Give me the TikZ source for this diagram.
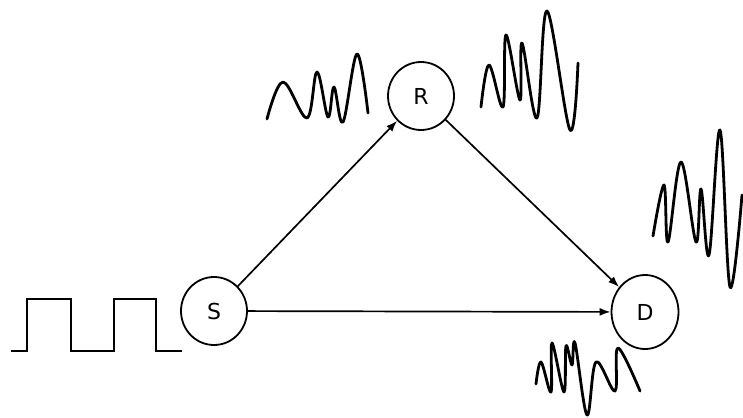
\documentclass[tikz,border=0pt]{standalone}
\usepackage{fontspec}
\setmainfont{DejaVu Sans}
\usetikzlibrary{arrows.meta,shapes.geometric}
\begin{document}
\begin{tikzpicture}[x=1pt,y=-1pt,
  nodebox/.style={ellipse,draw,line width=1.8pt,minimum width=66pt,minimum height=68pt,inner sep=0pt,font=\fontsize{22}{22}\selectfont},
  link/.style={line width=1.7pt,-{Latex[length=11pt,width=8pt]}},
  wave/.style={line width=2.8pt,line join=round,line cap=round}]
\useasboundingbox (0,0) rectangle (743,417);
\node[nodebox] (S) at (214,311) {S};
\node[nodebox] (R) at (421,96) {R};
\node[nodebox,minimum width=67pt,minimum height=74pt] (D) at (645,312) {D};
\draw[link] (S) -- (R);
\draw[link] (R) -- (D);
\draw[link] (S) -- (D);
% square wave
\draw[line width=2.2pt] (11,351) -- (27,351) -- (27,299) -- (71,299) -- (71,351) -- (114,351) -- (114,299) -- (156,299) -- (156,351) -- (182,351);
% wave near R (left)
\draw[wave] plot[smooth,tension=0.6] coordinates {(267,119) (283,82) (307,118) (317,72) (328,117) (334,87) (343,122) (357,54) (368,113)};
% wave right of R
\draw[wave] plot[smooth,tension=0.6] coordinates {(481,107) (489,65) (503,107) (506,35) (520,100) (522,43) (537,118) (547,11) (570,130) (578,63)};
% wave near D (right)
\draw[wave] plot[smooth,tension=0.6] coordinates {(653,236) (664,185) (668,242) (681,162) (696,242) (701,189) (709,255) (720,130) (730,287) (742,195)};
% wave below D
\draw[wave] plot[smooth,tension=0.6] coordinates {(536,384) (541,362) (551,392) (552,343) (564,392) (566,346) (572,365) (575,343) (587,415) (596,362) (615,391) (618,348) (640,391)};
\end{tikzpicture}
\end{document}
